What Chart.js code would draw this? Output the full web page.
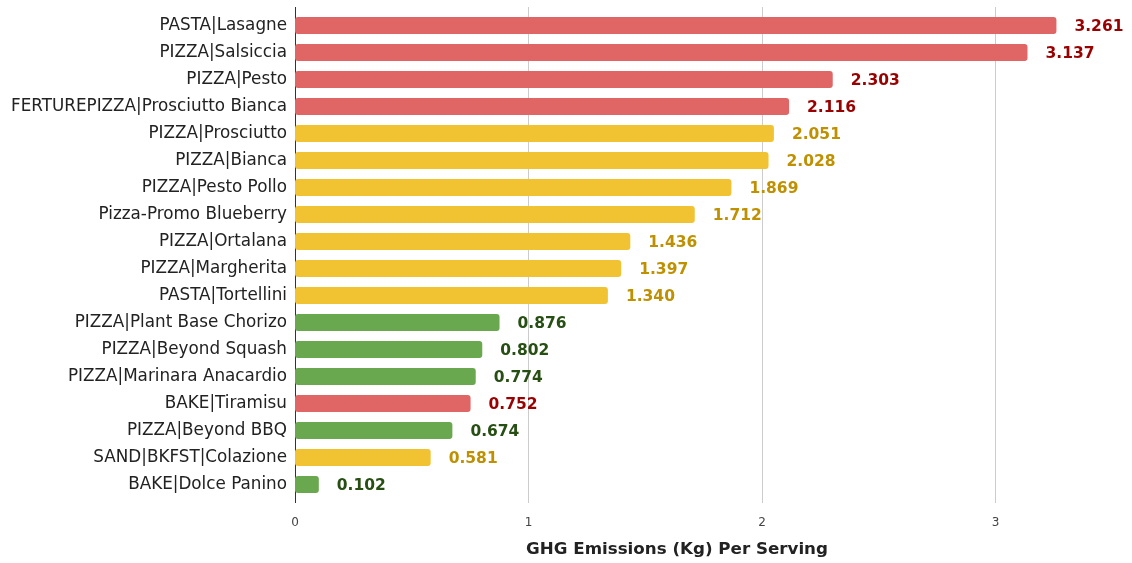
<!DOCTYPE html>
<html>
<head>
<meta charset="utf-8">
<title>GHG Emissions Per Serving</title>
<script src="https://cdn.jsdelivr.net/npm/chart.js@4"></script>
<style>
  html, body { margin: 0; padding: 0; background: #ffffff; }
  #wrap { width: 1132px; height: 563px; }
</style>
</head>
<body>
<div id="wrap"><canvas id="chart" width="1132" height="563"></canvas></div>
<script>
// Menu items and their greenhouse-gas footprint per serving (kg CO2e)
const categories = [
  'PASTA|Lasagne',
  'PIZZA|Salsiccia',
  'PIZZA|Pesto',
  'FERTUREPIZZA|Prosciutto Bianca',
  'PIZZA|Prosciutto',
  'PIZZA|Bianca',
  'PIZZA|Pesto Pollo',
  'Pizza-Promo Blueberry',
  'PIZZA|Ortalana',
  'PIZZA|Margherita',
  'PASTA|Tortellini',
  'PIZZA|Plant Base Chorizo',
  'PIZZA|Beyond Squash',
  'PIZZA|Marinara Anacardio',
  'BAKE|Tiramisu',
  'PIZZA|Beyond BBQ',
  'SAND|BKFST|Colazione',
  'BAKE|Dolce Panino'
];
const emissions = [3.261, 3.137, 2.303, 2.116, 2.051, 2.028, 1.869, 1.712, 1.436, 1.397, 1.340, 0.876, 0.802, 0.774, 0.752, 0.674, 0.581, 0.102];
const ratings = ['high', 'high', 'high', 'high', 'medium', 'medium', 'medium', 'medium', 'medium', 'medium', 'medium', 'low', 'low', 'low', 'high', 'low', 'medium', 'low'];
const xTicks = [0, 1, 2, 3];
const xTitle = 'GHG Emissions (Kg) Per Serving';

const barColors = { high: '#e06666', medium: '#f1c232', low: '#6aa84f' };
const labelColors = { high: '#990000', medium: '#bf9000', low: '#274e13' };

const FONT = '"DejaVu Sans", Verdana, sans-serif';

// Vertical grid lines and the category axis line, drawn a little past the plot area
const gridPlugin = {
  id: 'gridLines',
  beforeDatasetsDraw(chart) {
    const { ctx, chartArea } = chart;
    const x = chart.scales.x;
    const top = chartArea.top - 5;
    const bottom = chartArea.bottom + 5;
    ctx.save();
    ctx.lineWidth = 1;
    ctx.strokeStyle = '#cccccc';
    xTicks.forEach(v => {
      if (v === 0) return;
      const px = Math.round(x.getPixelForValue(v)) + 0.5;
      ctx.beginPath();
      ctx.moveTo(px, top);
      ctx.lineTo(px, bottom);
      ctx.stroke();
    });
    ctx.strokeStyle = '#333333';
    const px0 = Math.round(x.getPixelForValue(0)) + 0.5;
    ctx.beginPath();
    ctx.moveTo(px0, top);
    ctx.lineTo(px0, bottom);
    ctx.stroke();
    ctx.restore();
  }
};

// Value printed to the right of each bar
const valueLabels = {
  id: 'valueLabels',
  afterDatasetsDraw(chart) {
    const { ctx } = chart;
    const meta = chart.getDatasetMeta(0);
    ctx.save();
    ctx.font = 'bold 15.5px ' + FONT;
    ctx.textAlign = 'left';
    ctx.textBaseline = 'middle';
    meta.data.forEach((bar, i) => {
      ctx.fillStyle = labelColors[ratings[i]];
      ctx.fillText(emissions[i].toFixed(3), bar.x + 18, bar.y + 1);
    });
    ctx.restore();
  }
};

new Chart(document.getElementById('chart'), {
  type: 'bar',
  data: {
    labels: categories,
    datasets: [{
      data: emissions,
      backgroundColor: ratings.map(r => barColors[r]),
      borderRadius: 3,
      borderSkipped: false,
      barPercentage: 0.7,
      categoryPercentage: 0.9
    }]
  },
  options: {
    indexAxis: 'y',
    responsive: false,
    animation: false,
    devicePixelRatio: 1,
    layout: { padding: { top: 12, right: 73, bottom: 0, left: 0 } },
    plugins: {
      legend: { display: false },
      tooltip: { enabled: false }
    },
    scales: {
      x: {
        type: 'linear',
        min: 0,
        max: 3.272,
        afterBuildTicks: axis => { axis.ticks = xTicks.map(v => ({ value: v })); },
        afterFit: axis => { axis.height = 65; axis.paddingLeft = 0; axis.paddingRight = 0; },
        grid: { display: false, drawTicks: false },
        border: { display: false },
        ticks: {
          padding: 18,
          color: '#444444',
          font: { family: FONT, size: 12 },
          callback: v => String(v)
        },
        title: {
          display: true,
          text: xTitle,
          color: '#222222',
          font: { family: FONT, size: 16.7, weight: 'bold' },
          padding: { top: 0, bottom: 3 }
        }
      },
      y: {
        afterFit: axis => { axis.width = 295; axis.paddingTop = 0; axis.paddingBottom = 0; },
        grid: { display: false, drawTicks: false },
        border: { display: false },
        ticks: {
          padding: 8,
          color: '#222222',
          font: { family: FONT, size: 16.8 }
        }
      }
    }
  },
  plugins: [gridPlugin, valueLabels]
});
</script>
</body>
</html>
